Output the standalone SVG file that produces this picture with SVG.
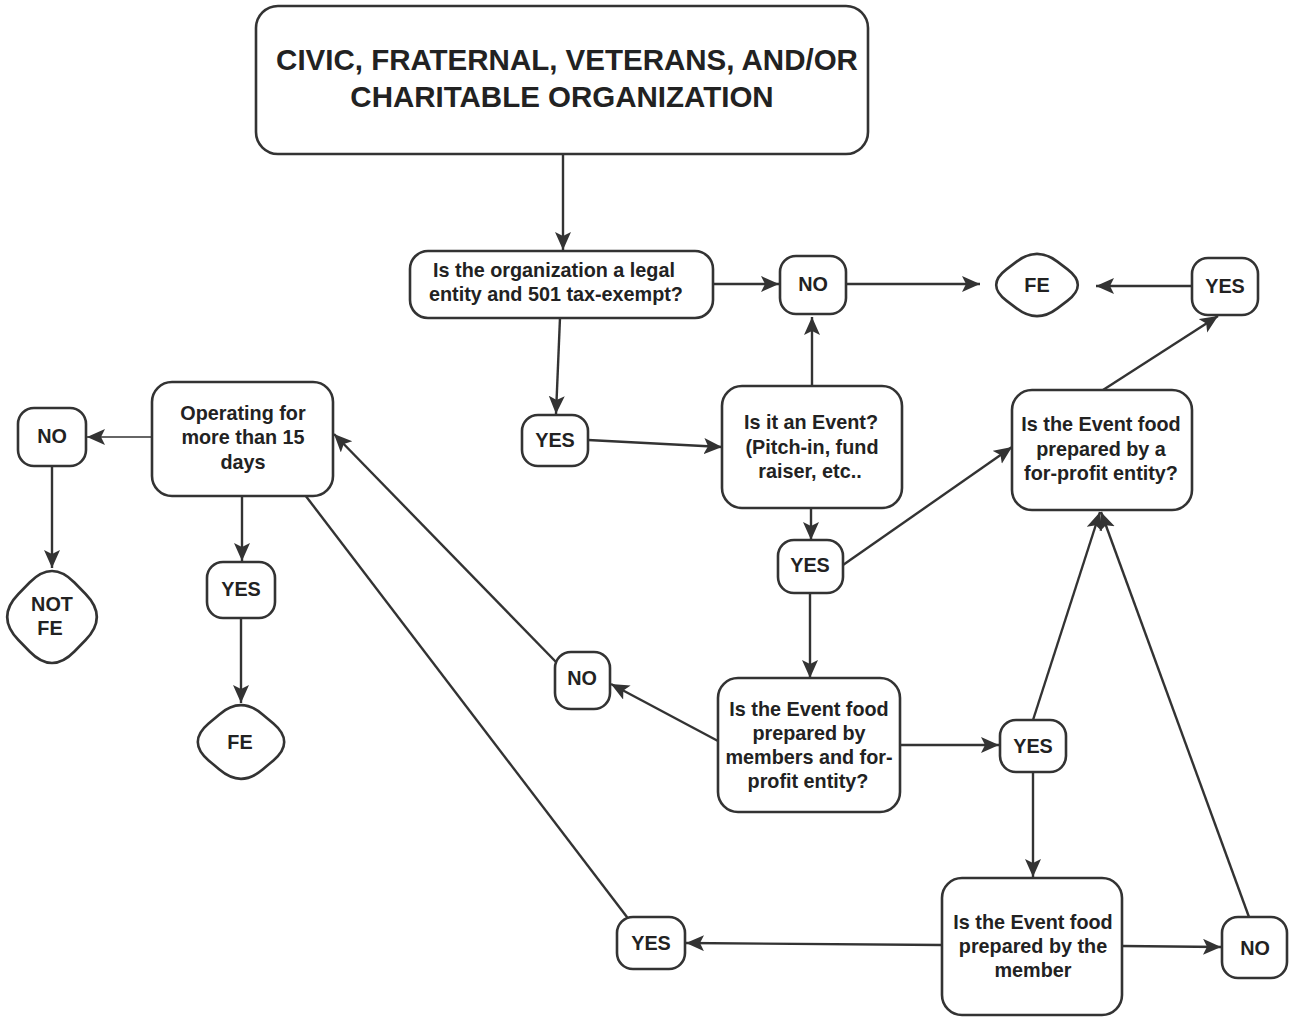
<svg xmlns="http://www.w3.org/2000/svg" width="1292" height="1019" viewBox="0 0 1292 1019">
<style>
.box{fill:#fff;stroke:#333;stroke-width:2.6}
.t{font-family:"Liberation Sans",Arial,sans-serif;font-weight:bold;font-size:19.8px;fill:#222;text-anchor:middle}
.title{font-size:29.5px}
.c{stroke:#333;stroke-width:2.4;fill:none;marker-end:url(#ah)}
.thin{stroke-width:1.4}
</style>
<defs>
<marker id="ah" markerUnits="userSpaceOnUse" markerWidth="20" markerHeight="18" refX="18" refY="8" orient="auto">
<path d="M0,0 L18,8 L0,16 L4,8 Z" fill="#333"/>
</marker>
</defs>
<rect width="1292" height="1019" fill="#fff"/>

<g id="connectors">
<line class="c" x1="563" y1="155" x2="563" y2="250"/>
<line class="c" x1="713" y1="284" x2="779" y2="284"/>
<line class="c" x1="846" y1="284" x2="980" y2="284"/>
<line class="c" x1="1192" y1="286" x2="1096" y2="286"/>
<line class="c" x1="560" y1="318" x2="556" y2="414"/>
<line class="c" x1="588" y1="440" x2="722" y2="447"/>
<line class="c" x1="812" y1="386" x2="812" y2="317"/>
<line class="c" x1="811" y1="508" x2="811" y2="540"/>
<line class="c" x1="843" y1="565" x2="1012" y2="447"/>
<line class="c" x1="1103" y1="390" x2="1218" y2="316"/>
<line class="c" x1="810" y1="592" x2="810" y2="678"/>
<line class="c" x1="718" y1="741" x2="611" y2="684"/>
<line class="c" x1="556" y1="662" x2="334" y2="434"/>
<line class="c" x1="900" y1="745" x2="999" y2="745"/>
<line class="c" x1="1033" y1="720" x2="1100" y2="512"/>
<line class="c" x1="1033" y1="772" x2="1033" y2="877"/>
<line class="c" x1="942" y1="945" x2="686" y2="943"/>
<line class="c" x1="1122" y1="946" x2="1221" y2="947"/>
<line class="c" x1="1249" y1="917" x2="1101" y2="512"/>
<line class="c" x1="630" y1="921" x2="289" y2="474"/>
<line class="c thin" x1="152" y1="437" x2="87" y2="437"/>
<line class="c" x1="52" y1="466" x2="52" y2="568"/>
<line class="c" x1="242" y1="496" x2="242" y2="561"/>
<line class="c" x1="241" y1="617" x2="241" y2="703"/>
</g>

<g id="n-title">
<rect class="box" x="256" y="6" width="612" height="148" rx="22"/>
<text class="t title" x="567" y="70">CIVIC, FRATERNAL, VETERANS, AND/OR</text>
<text class="t title" x="562" y="107">CHARITABLE ORGANIZATION</text>
</g>

<g id="n-legal">
<rect class="box" x="410" y="251" width="303" height="67" rx="18"/>
<text class="t" x="554" y="277">Is the organization a legal</text>
<text class="t" x="556" y="301">entity and 501 tax-exempt?</text>
</g>

<g id="n-no1">
<rect class="box" x="780" y="256" width="66" height="58" rx="16"/>
<text class="t" x="813" y="291">NO</text>
</g>

<g id="n-fe1">
<path class="box" d="M1006.4,269.4 L1016.6,261.6 Q1037,246 1057.4,261.6 L1067.6,269.4 Q1088,285 1067.6,300.6 L1057.4,308.4 Q1037,324 1016.6,308.4 L1006.4,300.6 Q986,285 1006.4,269.4 Z"/>
<text class="t" x="1037" y="292">FE</text>
</g>

<g id="n-yes-fe">
<rect class="box" x="1192" y="258" width="66" height="57" rx="16"/>
<text class="t" x="1225" y="293">YES</text>
</g>

<g id="n-yes1">
<rect class="box" x="522" y="415" width="66" height="51" rx="16"/>
<text class="t" x="555" y="447">YES</text>
</g>

<g id="n-event">
<rect class="box" x="722" y="386" width="180" height="122" rx="20"/>
<text class="t" x="811" y="429">Is it an Event?</text>
<text class="t" x="812" y="454">(Pitch-in, fund</text>
<text class="t" x="810" y="478">raiser, etc..</text>
</g>

<g id="n-yes2">
<rect class="box" x="778" y="540" width="65" height="53" rx="16"/>
<text class="t" x="810" y="572">YES</text>
</g>

<g id="n-forprofit">
<rect class="box" x="1012" y="390" width="180" height="120" rx="20"/>
<text class="t" x="1101" y="431">Is the Event food</text>
<text class="t" x="1101" y="456">prepared by a</text>
<text class="t" x="1101" y="480">for-profit entity?</text>
</g>

<g id="n-members">
<rect class="box" x="718" y="678" width="182" height="134" rx="20"/>
<text class="t" x="809" y="716">Is the Event food</text>
<text class="t" x="809" y="740">prepared by</text>
<text class="t" x="809" y="764">members and for-</text>
<text class="t" x="808" y="788">profit entity?</text>
</g>

<g id="n-no-mid">
<rect class="box" x="555" y="652" width="55" height="57" rx="16"/>
<text class="t" x="582" y="685">NO</text>
</g>

<g id="n-yes3">
<rect class="box" x="1000" y="720" width="66" height="52" rx="16"/>
<text class="t" x="1033" y="753">YES</text>
</g>

<g id="n-member">
<rect class="box" x="942" y="878" width="180" height="137" rx="20"/>
<text class="t" x="1033" y="929">Is the Event food</text>
<text class="t" x="1033" y="953">prepared by the</text>
<text class="t" x="1033" y="977">member</text>
</g>

<g id="n-yes4">
<rect class="box" x="617" y="917" width="68" height="52" rx="16"/>
<text class="t" x="651" y="950">YES</text>
</g>

<g id="n-no4">
<rect class="box" x="1222" y="917" width="65" height="61" rx="16"/>
<text class="t" x="1255" y="955">NO</text>
</g>

<g id="n-operating">
<rect class="box" x="152" y="382" width="181" height="114" rx="20"/>
<text class="t" x="243" y="420">Operating for</text>
<text class="t" x="243" y="444">more than 15</text>
<text class="t" x="243" y="469">days</text>
</g>

<g id="n-no-left">
<rect class="box" x="18" y="408" width="68" height="58" rx="16"/>
<text class="t" x="52" y="443">NO</text>
</g>

<g id="n-notfe">
<path class="box" d="M18.4,594 L29.6,582.5 Q52,559.5 74.4,582.5 L85.6,594 Q108,617 85.6,640 L74.4,651.5 Q52,674.5 29.6,651.5 L18.4,640 Q-4,617 18.4,594 Z"/>
<text class="t" x="52" y="611">NOT</text>
<text class="t" x="50" y="635">FE</text>
</g>

<g id="n-yes-left">
<rect class="box" x="207" y="562" width="68" height="56" rx="16"/>
<text class="t" x="241" y="596">YES</text>
</g>

<g id="n-fe2">
<path class="box" d="M208.6,723.6 L219.4,714.4 Q241,696 262.6,714.4 L273.4,723.6 Q295,742 273.4,760.4 L262.6,769.6 Q241,788 219.4,769.6 L208.6,760.4 Q187,742 208.6,723.6 Z"/>
<text class="t" x="240" y="749">FE</text>
</g>
</svg>
